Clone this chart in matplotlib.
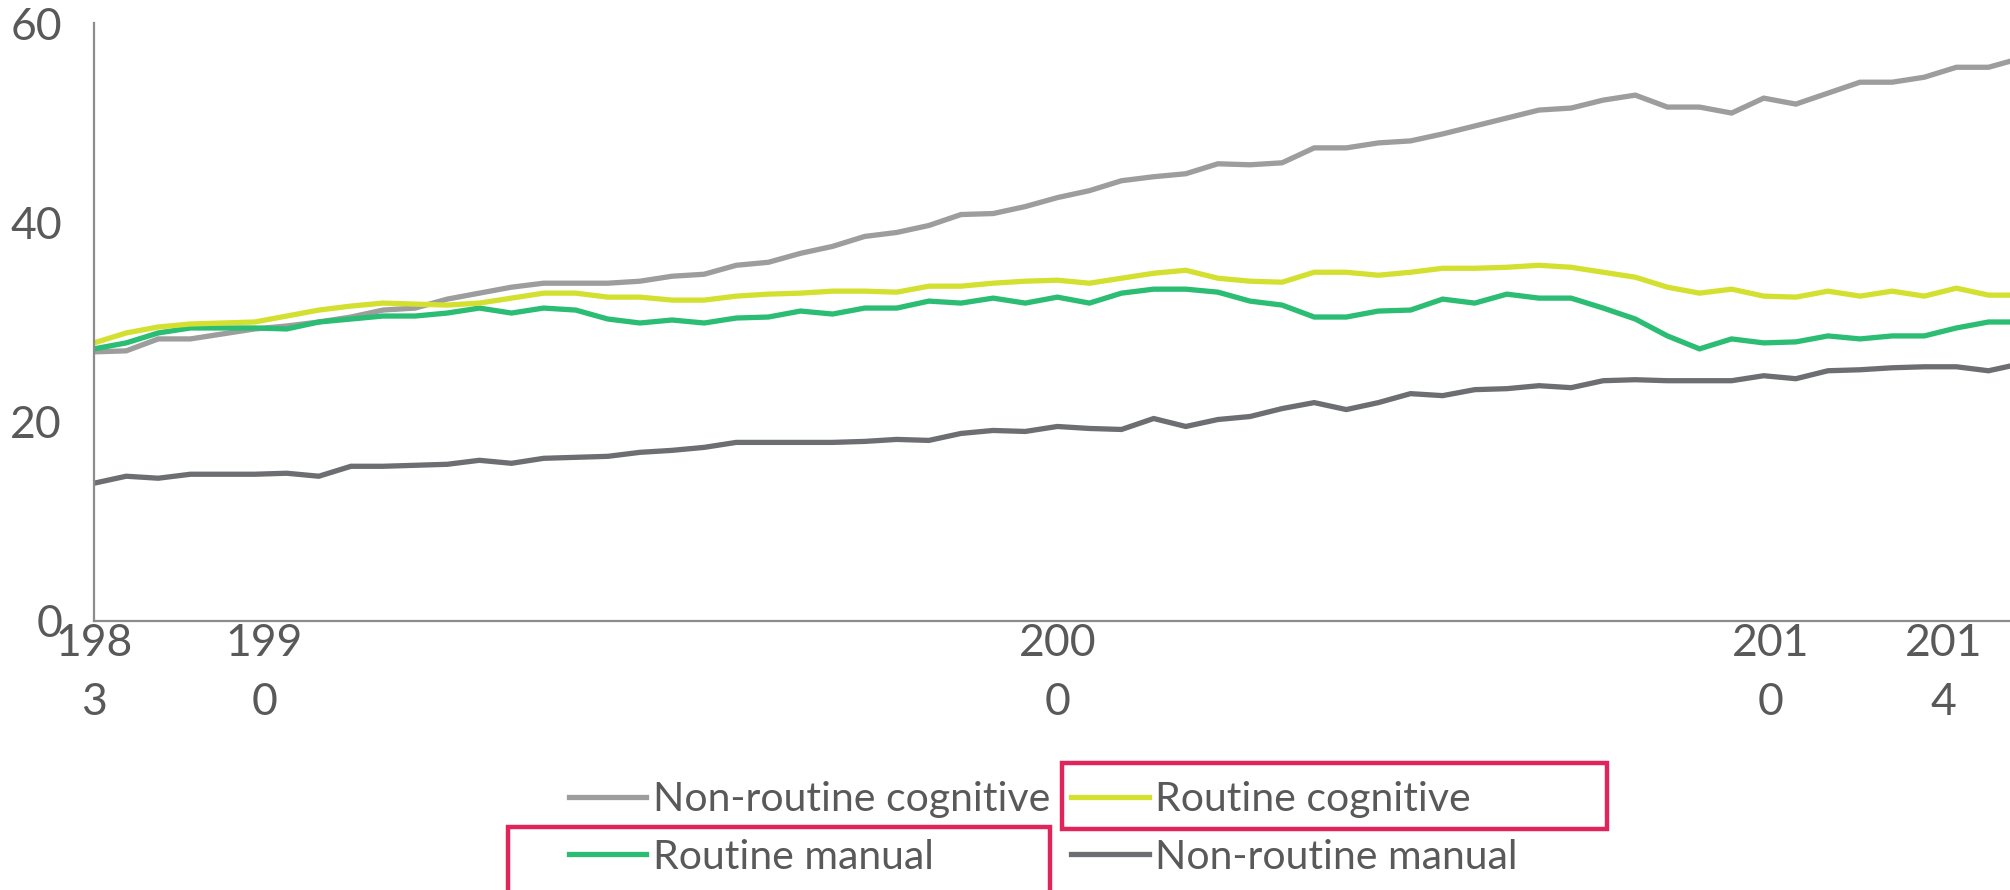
import matplotlib
matplotlib.use("Agg")
import matplotlib.pyplot as plt
from matplotlib.patches import Rectangle

# share of employment by occupation group (%), one value per category step
non_routine_cognitive = [27.0, 27.1, 28.3, 28.3, 28.8, 29.3, 29.6, 30.0, 30.5, 31.2,
                         31.4, 32.3, 32.9, 33.5, 33.9, 33.9, 33.9, 34.1, 34.6, 34.8,
                         35.7, 36.0, 36.9, 37.6, 38.6, 39.0, 39.7, 40.8, 40.9, 41.6,
                         42.5, 43.2, 44.2, 44.6, 44.9, 45.9, 45.8, 46.0, 47.5, 47.5,
                         48.0, 48.2, 48.9, 49.7, 50.5, 51.3, 51.5, 52.3, 52.8, 51.6,
                         51.6, 51.0, 52.5, 51.9, 53.0, 54.1, 54.1, 54.6, 55.6, 55.6,
                         56.5]
routine_cognitive = [27.9, 28.9, 29.5, 29.8, 29.9, 30.0, 30.6, 31.2, 31.6, 31.9,
                     31.8, 31.7, 31.9, 32.4, 32.9, 32.9, 32.5, 32.5, 32.2, 32.2,
                     32.6, 32.8, 32.9, 33.1, 33.1, 33.0, 33.6, 33.6, 33.9, 34.1,
                     34.2, 33.9, 34.4, 34.9, 35.2, 34.4, 34.1, 34.0, 35.0, 35.0,
                     34.7, 35.0, 35.4, 35.4, 35.5, 35.7, 35.5, 35.0, 34.5, 33.5,
                     32.9, 33.3, 32.6, 32.5, 33.1, 32.6, 33.1, 32.6, 33.4, 32.7,
                     32.7]
routine_manual = [27.3, 27.9, 28.9, 29.4, 29.4, 29.4, 29.3, 30.0, 30.3, 30.6,
                  30.6, 30.9, 31.4, 30.9, 31.4, 31.2, 30.3, 29.9, 30.2, 29.9,
                  30.4, 30.5, 31.1, 30.8, 31.4, 31.4, 32.1, 31.9, 32.4, 31.9,
                  32.5, 31.9, 32.9, 33.3, 33.3, 33.0, 32.1, 31.7, 30.5, 30.5,
                  31.1, 31.2, 32.3, 31.9, 32.8, 32.4, 32.4, 31.4, 30.3, 28.6,
                  27.3, 28.3, 27.9, 28.0, 28.6, 28.3, 28.6, 28.6, 29.4, 30.0,
                  30.0]
non_routine_manual = [13.8, 14.5, 14.3, 14.7, 14.7, 14.7, 14.8, 14.5, 15.5, 15.5,
                      15.6, 15.7, 16.1, 15.8, 16.3, 16.4, 16.5, 16.9, 17.1, 17.4,
                      17.9, 17.9, 17.9, 17.9, 18.0, 18.2, 18.1, 18.8, 19.1, 19.0,
                      19.5, 19.3, 19.2, 20.3, 19.5, 20.2, 20.5, 21.3, 21.9, 21.2,
                      21.9, 22.8, 22.6, 23.2, 23.3, 23.6, 23.4, 24.1, 24.2, 24.1,
                      24.1, 24.1, 24.6, 24.3, 25.1, 25.2, 25.4, 25.5, 25.5, 25.1,
                      25.8]

# category axis labels (wrapped as in the source) and where they sit
tick_labels = ["198\n3", "199\n0", "200\n0", "201\n0", "201\n4"]
tick_pos = [0, 5.3, 30, 52.2, 57.6]

series = [
    ("Non-routine cognitive", non_routine_cognitive, "#9d9d9d"),
    ("Routine manual", routine_manual, "#2bbd73"),
    ("Routine cognitive", routine_cognitive, "#d4e030"),
    ("Non-routine manual", non_routine_manual, "#6d6e71"),
]

TEXT = "#595959"
FONT = "Lato"
FS = 32
FS_LEG = 29.5

fig = plt.figure(figsize=(20.1, 8.9), dpi=100)
ax = fig.add_axes([0.0468, 0.3028, 0.9532, 0.6708])

lines = {}
for name, vals, col in series:
    ln, = ax.plot(range(len(vals)), vals, color=col, lw=3.8, label=name,
                  solid_joinstyle="miter")
    lines[name] = ln

ax.set_xlim(0, 59.67)
ax.set_ylim(0, 60)
ax.set_yticks([0, 20, 40, 60])
ax.set_xticks(tick_pos)
ax.set_xticklabels(tick_labels, linespacing=1.55)
ax.tick_params(length=0, colors=TEXT, labelsize=FS)
ax.tick_params(axis="y", pad=23)
ax.tick_params(axis="x", pad=2)
for lab in ax.get_xticklabels() + ax.get_yticklabels():
    lab.set_family(FONT)

for s in ["top", "right"]:
    ax.spines[s].set_visible(False)
for s in ["left", "bottom"]:
    ax.spines[s].set_color("#8c8c8c")
    ax.spines[s].set_linewidth(1.6)

fig.legend(handles=[lines[n] for n, _, _ in series], ncol=2, frameon=False,
           loc="center", bbox_to_anchor=(0.519, 0.069),
           prop={"family": FONT, "size": FS_LEG}, labelcolor=TEXT,
           handlelength=1.9, handletextpad=0.16, columnspacing=0.5,
           labelspacing=0.5, borderaxespad=0)

# red highlight boxes around two legend entries
red = "#e0245c"
fig.patches.append(Rectangle((1062 / 2010, 1 - 829 / 890), 545 / 2010, 66 / 890,
                             transform=fig.transFigure, fill=False,
                             edgecolor=red, lw=3.2))
fig.patches.append(Rectangle((508 / 2010, 1 - 895 / 890), 542 / 2010, 68 / 890,
                             transform=fig.transFigure, fill=False,
                             edgecolor=red, lw=3.2))

fig.savefig("out.png", dpi=100)
